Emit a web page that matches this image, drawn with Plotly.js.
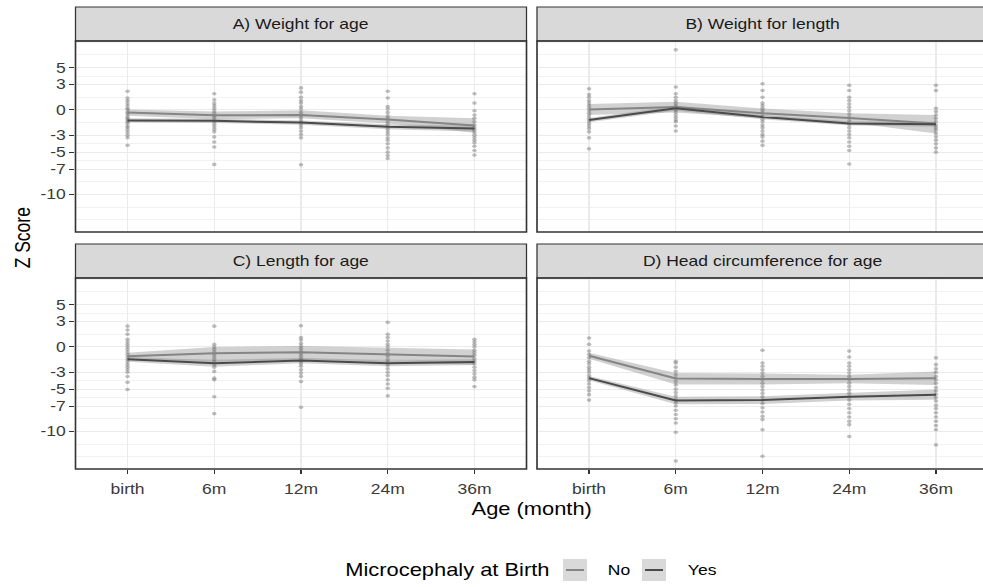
<!DOCTYPE html>
<html>
<head>
<meta charset="utf-8">
<script src="https://cdn.plot.ly/plotly-3.0.1.min.js"></script>
<style>
  html, body { margin: 0; padding: 0; background: #ffffff; overflow: hidden; }
  #wrap { width: 983px; height: 587px; overflow: hidden; position: relative; }
  #plot { position: absolute; left: 0; top: 0; transform-origin: 0 0; }
</style>
</head>
<body>
<div id="wrap"><div id="plot"></div></div>
<script>
// ---------------- DATA ----------------
const cats = ['birth', '6m', '12m', '24m', '36m'];
const yTickVals = [-10, -7, -5, -3, 0, 3, 5];
const yMinorVals = [-13, -11.5, -8.5, -6, -4, -1.5, 1.5, 4, 6.5, 8];
const panelTitles = ['A) Weight for age', 'B) Weight for length', 'C) Length for age', 'D) Head circumference for age'];
const groupNames = ['No', 'Yes'];

// Panel A: Weight for age
const noMeanA = [-0.3, -0.65, -0.6, -1.15, -1.85];
const noLoA   = [-0.7, -1.1, -1.0, -1.6, -2.7];
const noHiA   = [0.05, -0.2, -0.05, -0.7, -1.0];
const yesMeanA = [-1.25, -1.3, -1.5, -2.0, -2.2];
const yesLoA   = [-1.5, -1.55, -1.75, -2.3, -2.55];
const yesHiA   = [-1.0, -1.05, -1.25, -1.7, -1.85];
const ptsA = [
  [2.2, 1.4, 1.1, 0.8, 0.5, 0.2, 0.0, -0.3, -0.5, -0.8, -1.0, -1.2, -1.4, -1.6, -1.9, -2.1, -2.4, -2.7, -3.0, -3.3, -4.2],
  [1.9, 1.2, 0.8, 0.5, 0.2, -0.1, -0.4, -0.7, -0.9, -1.2, -1.4, -1.7, -2.0, -2.3, -2.6, -3.2, -3.8, -4.4, -6.45],
  [2.6, 2.1, 1.5, 1.1, 0.8, 0.4, 0.1, -0.3, -0.6, -0.9, -1.2, -1.5, -1.8, -2.1, -2.5, -2.9, -3.3, -6.5],
  [2.2, 1.4, 0.4, 0.1, -0.3, -0.7, -1.0, -1.4, -1.7, -2.0, -2.3, -2.6, -2.9, -3.3, -3.6, -4.0, -4.5, -5.0, -5.4, -5.75],
  [1.9, 0.8, -0.1, -0.6, -1.0, -1.4, -1.8, -2.1, -2.4, -2.7, -3.0, -3.3, -3.6, -3.9, -4.3, -4.8, -5.35]
];

// Panel B: Weight for length
const noMeanB = [0.05, 0.35, -0.4, -0.95, -1.6];
const noLoB   = [-0.6, -0.3, -0.95, -1.5, -2.8];
const noHiB   = [0.7, 0.95, 0.15, -0.4, -0.6];
const yesMeanB = [-1.2, 0.2, -0.85, -1.6, -1.7];
const yesLoB   = [-1.45, -0.1, -1.1, -1.85, -2.0];
const yesHiB   = [-0.95, 0.5, -0.6, -1.35, -1.4];
const ptsB = [
  [2.5, 1.8, 1.5, 1.1, 0.8, 0.5, 0.2, -0.1, -0.4, -0.7, -1.0, -1.3, -1.6, -1.9, -2.2, -2.6, -3.3, -4.6],
  [7.1, 2.7, 1.9, 1.5, 1.1, 0.8, 0.5, 0.3, 0.0, -0.3, -0.6, -0.9, -1.2, -1.4, -1.9, -2.5],
  [3.1, 2.3, 1.5, 0.8, 0.5, 0.2, -0.1, -0.4, -0.8, -1.1, -1.4, -1.8, -2.1, -2.5, -2.9, -3.2, -3.7, -4.2],
  [2.9, 2.3, 1.5, 1.1, 0.7, 0.3, -0.1, -0.5, -0.9, -1.3, -1.7, -2.1, -2.5, -2.9, -3.3, -3.8, -4.3, -4.8, -6.4],
  [2.9, 2.3, 0.2, -0.2, -0.6, -1.0, -1.4, -1.8, -2.1, -2.4, -2.8, -3.2, -3.6, -4.0, -4.5, -5.0]
];

// Panel C: Length for age
const noMeanC = [-1.1, -0.75, -0.65, -0.9, -1.15];
const noLoC   = [-1.5, -1.8, -1.5, -1.8, -2.1];
const noHiC   = [-0.7, 0.0, 0.1, -0.1, -0.3];
const yesMeanC = [-1.45, -1.95, -1.6, -1.95, -1.8];
const yesLoC   = [-1.75, -2.35, -1.95, -2.3, -2.15];
const yesHiC   = [-1.2, -1.55, -1.3, -1.6, -1.45];
const ptsC = [
  [2.45, 2.0, 1.5, 0.9, 0.6, 0.3, 0.0, -0.3, -0.6, -0.9, -1.2, -1.5, -1.8, -2.1, -2.4, -2.7, -3.0, -3.5, -4.2, -5.05],
  [2.45, 0.3, 0.0, -0.3, -0.6, -0.9, -1.2, -1.5, -1.8, -2.1, -2.4, -2.9, -3.7, -3.9, -5.9, -7.9],
  [2.5, 1.1, 0.8, 0.4, 0.1, -0.2, -0.5, -0.8, -1.1, -1.4, -1.7, -2.0, -2.3, -2.7, -3.1, -3.5, -4.1, -7.15],
  [2.9, 1.5, 1.1, 0.7, 0.3, 0.0, -0.4, -0.8, -1.1, -1.5, -1.8, -2.2, -2.6, -3.0, -3.4, -3.9, -4.4, -4.9, -5.8],
  [0.9, 0.6, 0.3, 0.0, -0.4, -0.7, -1.0, -1.4, -1.7, -2.0, -2.4, -2.8, -3.2, -3.6, -3.9, -4.7]
];

// Panel D: Head circumference for age
const noMeanD = [-1.05, -3.75, -3.8, -3.8, -3.7];
const noLoD   = [-1.4, -4.45, -4.45, -4.3, -4.5];
const noHiD   = [-0.7, -3.1, -3.15, -3.3, -2.9];
const yesMeanD = [-3.7, -6.35, -6.3, -5.9, -5.65];
const yesLoD   = [-3.95, -6.8, -6.75, -6.35, -6.25];
const yesHiD   = [-3.45, -5.9, -5.85, -5.45, -5.05];
const ptsD = [
  [1.05, 0.3, -0.5, -0.9, -1.3, -1.7, -2.0, -2.4, -2.7, -3.0, -3.4, -3.7, -4.0, -4.4, -4.8, -5.2, -5.65, -6.3],
  [-1.7, -1.9, -2.4, -2.9, -3.3, -3.7, -4.1, -4.5, -5.0, -5.4, -5.8, -6.2, -6.6, -7.0, -7.5, -8.0, -8.5, -9.0, -10.1, -13.5],
  [-0.4, -1.9, -2.3, -2.7, -3.1, -3.5, -3.9, -4.3, -4.7, -5.1, -5.5, -5.9, -6.3, -6.7, -7.2, -7.7, -8.2, -8.6, -9.8, -12.95],
  [-0.5, -1.2, -1.9, -2.3, -2.7, -3.1, -3.5, -3.9, -4.3, -4.7, -5.1, -5.5, -5.9, -6.3, -6.8, -7.3, -7.8, -8.3, -8.8, -9.2, -10.6],
  [-1.3, -2.1, -2.6, -3.0, -3.5, -3.9, -4.3, -4.8, -5.2, -5.6, -6.0, -6.4, -6.9, -7.3, -7.8, -8.3, -8.8, -9.3, -9.8, -11.6]
];

// ---------------- STYLE / LAYOUT ----------------
const REF_W = 983, REF_H = 587;
const STRETCH = 1.25;                 // reference image is horizontally stretched
const W = Math.round(REF_W / STRETCH);
const H = REF_H;
const px = v => v / REF_W;            // reference x pixel -> paper
const py = v => 1 - v / REF_H;        // reference y pixel -> paper

const FONT = 'Liberation Sans, Arial, Helvetica, sans-serif';
const colNo = '#858585', colYes = '#4a4a4a';
const ribbonFill = 'rgba(140,140,140,0.40)';
const pointCol = 'rgba(100,100,100,0.42)';
const gridCol = '#EBEBEB';
const borderCol = '#333333';
const tickCol = '#3a3a3a';

const panels = [
  {noM: noMeanA, noL: noLoA, noH: noHiA, yM: yesMeanA, yL: yesLoA, yH: yesHiA, pts: ptsA, xa: 'x',  ya: 'y'},
  {noM: noMeanB, noL: noLoB, noH: noHiB, yM: yesMeanB, yL: yesLoB, yH: yesHiB, pts: ptsB, xa: 'x2', ya: 'y2'},
  {noM: noMeanC, noL: noLoC, noH: noHiC, yM: yesMeanC, yL: yesLoC, yH: yesHiC, pts: ptsC, xa: 'x3', ya: 'y3'},
  {noM: noMeanD, noL: noLoD, noH: noHiD, yM: yesMeanD, yL: yesLoD, yH: yesHiD, pts: ptsD, xa: 'x4', ya: 'y4'}
];

const traces = [];
const catsBack = cats.slice().reverse();
panels.forEach(p => {
  // ribbons
  [[p.noL, p.noH], [p.yL, p.yH]].forEach(([lo, hi]) => {
    traces.push({
      type: 'scatter', mode: 'lines', xaxis: p.xa, yaxis: p.ya,
      x: cats.concat(catsBack), y: hi.concat(lo.slice().reverse()),
      fill: 'toself', fillcolor: ribbonFill, line: {width: 0}, hoverinfo: 'skip', showlegend: false
    });
  });
  // points
  const xs = [], ys = [];
  p.pts.forEach((col, i) => col.forEach(v => { xs.push(cats[i]); ys.push(v); }));
  traces.push({
    type: 'scatter', mode: 'markers', xaxis: p.xa, yaxis: p.ya, x: xs, y: ys,
    marker: {size: 3.6, color: pointCol, line: {width: 0}}, showlegend: false
  });
  // lines
  traces.push({type: 'scatter', mode: 'lines', xaxis: p.xa, yaxis: p.ya, x: cats, y: p.noM,
    line: {color: colNo, width: 2}, name: groupNames[0], showlegend: false});
  traces.push({type: 'scatter', mode: 'lines', xaxis: p.xa, yaxis: p.ya, x: cats, y: p.yM,
    line: {color: colYes, width: 2}, name: groupNames[1], showlegend: false});
});

// panel geometry (reference pixels)
const leftX = [75.5, 526.5], rightX = [537, 988];
const topY = [41, 232], botY = [278, 469];
const stripTop = [7, 41], stripBot = [244, 278];
const yRange = [-14.45, 8.15];

function xAxis(dom, rng, showLabels) {
  return {
    domain: dom, type: 'category', categoryorder: 'array', categoryarray: cats,
    range: rng, showgrid: true, gridcolor: gridCol, gridwidth: 1, zeroline: false, showline: false,
    ticks: showLabels ? 'outside' : '', ticklen: 4, tickwidth: 1, tickcolor: borderCol,
    ticklabelstandoff: 3,
    showticklabels: showLabels, tickfont: {family: FONT, size: 14, color: tickCol}, fixedrange: true
  };
}
function yAxis(dom, showLabels, anchor) {
  return {
    domain: dom, anchor: anchor, range: yRange, tickmode: 'array', tickvals: yTickVals,
    ticktext: yTickVals.map(String),
    showgrid: true, gridcolor: gridCol, gridwidth: 1, zeroline: false, showline: false,
    minor: {tickmode: 'array', tickvals: yMinorVals, showgrid: true, gridcolor: gridCol, gridwidth: 0.6, ticks: ''},
    ticks: showLabels ? 'outside' : '', ticklen: 4, tickwidth: 1, tickcolor: borderCol,
    showticklabels: showLabels, tickfont: {family: FONT, size: 14, color: tickCol}, fixedrange: true
  };
}
const domL = [px(leftX[0]), px(leftX[1])];
const domR = [px(rightX[0]), 1];
const domT = [py(topY[1]), py(topY[0])];
const domB = [py(botY[1]), py(botY[0])];
const rngL = [-0.6, 4.6];
const rngR = [-0.6, -0.6 + 5.2 * (REF_W - rightX[0]) / (rightX[1] - rightX[0])];

const shapes = [];
const annotations = [];
const boxes = [
  {x: leftX, y: topY, s: stripTop, t: panelTitles[0]},
  {x: rightX, y: topY, s: stripTop, t: panelTitles[1]},
  {x: leftX, y: botY, s: stripBot, t: panelTitles[2]},
  {x: rightX, y: botY, s: stripBot, t: panelTitles[3]}
];
boxes.forEach(b => {
  shapes.push({type: 'rect', xref: 'paper', yref: 'paper', x0: px(b.x[0]), x1: px(b.x[1]),
    y0: py(b.s[1]), y1: py(b.s[0]), fillcolor: '#D9D9D9', line: {color: borderCol, width: 1}, layer: 'above'});
  shapes.push({type: 'rect', xref: 'paper', yref: 'paper', x0: px(b.x[0]), x1: px(b.x[1]),
    y0: py(b.y[1]), y1: py(b.y[0]), fillcolor: 'rgba(0,0,0,0)', line: {color: borderCol, width: 1.3}, layer: 'above'});
  annotations.push({xref: 'paper', yref: 'paper', x: px((b.x[0] + b.x[1]) / 2), y: py((b.s[0] + b.s[1]) / 2),
    text: b.t, showarrow: false, xanchor: 'center', yanchor: 'middle',
    font: {family: FONT, size: 14, color: '#1A1A1A'}});
});

// axis titles
annotations.push({xref: 'paper', yref: 'paper', x: px(23), y: py(238), text: 'Z Score', textangle: -90,
  showarrow: false, xanchor: 'center', yanchor: 'middle', font: {family: FONT, size: 17.5, color: '#000000'}});
annotations.push({xref: 'paper', yref: 'paper', x: px(531), y: py(509), text: 'Age (month)',
  showarrow: false, xanchor: 'center', yanchor: 'middle', font: {family: FONT, size: 17.5, color: '#000000'}});

// legend (drawn manually, ggplot style)
const legY = 570;
annotations.push({xref: 'paper', yref: 'paper', x: px(552), y: py(legY), text: 'Microcephaly at Birth',
  showarrow: false, xanchor: 'right', yanchor: 'middle', font: {family: FONT, size: 17.5, color: '#000000'}});
const keyX = [563, 642];
const keyCols = [colNo, colYes];
const keyTextX = [605, 685];
keyX.forEach((kx, i) => {
  shapes.push({type: 'rect', xref: 'paper', yref: 'paper', x0: px(kx), x1: px(kx + 24),
    y0: py(legY + 11), y1: py(legY - 11), fillcolor: '#D9D9D9', line: {width: 0}});
  shapes.push({type: 'line', xref: 'paper', yref: 'paper', x0: px(kx + 3), x1: px(kx + 21),
    y0: py(legY), y1: py(legY), line: {color: keyCols[i], width: 2}});
  annotations.push({xref: 'paper', yref: 'paper', x: px(keyTextX[i]), y: py(legY), text: groupNames[i],
    showarrow: false, xanchor: 'left', yanchor: 'middle', font: {family: FONT, size: 14, color: '#000000'}});
});

const layout = {
  width: W, height: H, autosize: false,
  margin: {l: 0, r: 0, t: 0, b: 0, pad: 0},
  paper_bgcolor: '#ffffff', plot_bgcolor: '#ffffff',
  showlegend: false,
  font: {family: FONT},
  xaxis: xAxis(domL, rngL, false),
  xaxis2: xAxis(domR, rngR, false),
  xaxis3: xAxis(domL, rngL, true),
  xaxis4: xAxis(domR, rngR, true),
  yaxis: yAxis(domT, true, 'x'),
  yaxis2: yAxis(domT, false, 'x2'),
  yaxis3: yAxis(domB, true, 'x3'),
  yaxis4: yAxis(domB, false, 'x4'),
  shapes: shapes,
  annotations: annotations
};
layout.xaxis.anchor = 'y'; layout.xaxis2.anchor = 'y2';
layout.xaxis3.anchor = 'y3'; layout.xaxis4.anchor = 'y4';

const el = document.getElementById('plot');
el.style.width = W + 'px';
el.style.height = H + 'px';
el.style.transform = 'scale(' + (REF_W / W) + ', 1)';
Plotly.newPlot(el, traces, layout, {displayModeBar: false, staticPlot: true});
</script>
</body>
</html>
